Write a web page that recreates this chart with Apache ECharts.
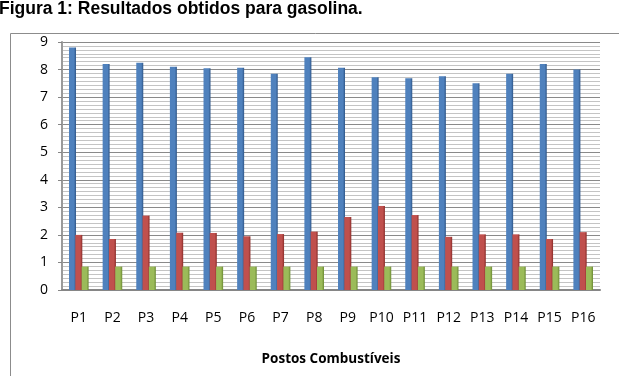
<!DOCTYPE html>
<html>
  <head>
    <meta charset="utf-8" />
    <title>Figura 1</title>
    <script src="https://cdn.jsdelivr.net/npm/echarts@6/dist/echarts.min.js"></script>
    <style>
      html, body { margin: 0; padding: 0; background: #fff; }
      #chart { width: 619px; height: 376px; }
    </style>
  </head>
  <body>
    <div id="chart"></div>
    <script>
      // postos
      var categorias = ["P1", "P2", "P3", "P4", "P5", "P6", "P7", "P8",
        "P9", "P10", "P11", "P12", "P13", "P14", "P15", "P16"];
      var serieAzul = [8.8, 8.2, 8.25, 8.1, 8.05, 8.07, 7.85, 8.45,
        8.07, 7.72, 7.68, 7.76, 7.5, 7.85, 8.2, 8.0];
      var serieVermelha = [2.0, 1.85, 2.7, 2.08, 2.07, 1.95, 2.03, 2.12,
        2.65, 3.05, 2.72, 1.93, 2.02, 2.02, 1.85, 2.1];
      var serieVerde = [0.85, 0.85, 0.85, 0.85, 0.85, 0.85, 0.85, 0.85,
        0.85, 0.85, 0.85, 0.85, 0.85, 0.85, 0.85, 0.85];
      var titulo = "Figura 1: Resultados obtidos para gasolina.";
      var nomeEixoX = "Postos Combustíveis";

      function grad(c1, c2) {
        return new echarts.graphic.LinearGradient(0, 0, 1, 0, [
          { offset: 0, color: c1 },
          { offset: 0.7, color: c1 },
          { offset: 1, color: c2 }
        ]);
      }

      var myChart = echarts.init(document.getElementById("chart"));
      var option = {
        animation: false,
        textStyle: { fontFamily: "Open Sans" },
        title: {
          text: titulo,
          left: -1,
          top: 0,
          padding: 0,
          textStyle: {
            fontFamily: "Liberation Sans",
            fontWeight: "bold",
            fontSize: 17.5,
            color: "#000"
          }
        },
        graphic: [{
          type: "rect",
          shape: { x: 10.5, y: 33.5, width: 640, height: 400 },
          style: { fill: null, stroke: "#8c8c8c", lineWidth: 1 },
          z: -1
        }],
        grid: { left: 62, right: 19, top: 42, bottom: 86 },
        xAxis: {
          type: "category",
          data: categorias,
          name: nomeEixoX,
          nameLocation: "middle",
          nameGap: 62,
          nameTextStyle: { fontWeight: "bold", fontSize: 13.5, color: "#000" },
          axisLine: { lineStyle: { color: "#868686", width: 2 } },
          axisTick: { show: false },
          axisLabel: { margin: 21, fontSize: 14, color: "#000" }
        },
        yAxis: {
          type: "value",
          min: 0,
          max: 9,
          interval: 1,
          axisLine: { show: true, lineStyle: { color: "#9a9a9a", width: 2 } },
          axisTick: { show: true, length: 4, lineStyle: { color: "#868686" } },
          axisLabel: { margin: 14, fontSize: 14, color: "#000" },
          splitLine: { lineStyle: { color: "#8a8a8a", width: 1 } },
          minorTick: { show: false, splitNumber: 7 },
          minorSplitLine: { show: true, lineStyle: { color: "#c4c4c4", width: 1 } }
        },
        series: [
          {
            name: "A",
            type: "bar",
            data: serieAzul,
            barWidth: 7,
            barGap: "-10%",
            itemStyle: { color: grad("#4f81bd", "#2f5688") }
          },
          {
            name: "B",
            type: "bar",
            data: serieVermelha,
            barWidth: 7,
            barGap: "-10%",
            itemStyle: { color: grad("#c0504d", "#8a2d2a") }
          },
          {
            name: "C",
            type: "bar",
            data: serieVerde,
            barWidth: 7,
            barGap: "-10%",
            itemStyle: { color: grad("#9bbb59", "#6b8a34") }
          }
        ]
      };
      myChart.setOption(option);
    </script>
  </body>
</html>
